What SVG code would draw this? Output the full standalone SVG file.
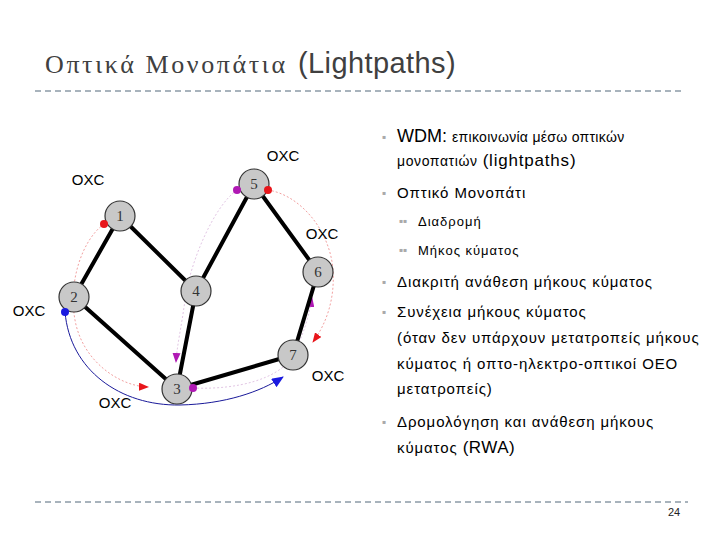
<svg xmlns="http://www.w3.org/2000/svg" width="720" height="540" viewBox="0 0 720 540">
<style>
.sep{stroke:#a8b3bc;stroke-width:2;stroke-dasharray:6 4;fill:none}
.edge{stroke:#000;stroke-width:4;stroke-linecap:round}
.node circle{fill:#c8c8c8;stroke:#333;stroke-width:1.2}
.node text{font-family:"Liberation Serif","DejaVu Serif",serif;font-size:15px;fill:#333;text-anchor:middle}
.oxc{font-family:"Liberation Sans",Arial,sans-serif;font-size:15px;fill:#000;text-anchor:middle}
.red{stroke:#e88;stroke-width:0.8;stroke-dasharray:2 2;fill:none}
.pur{stroke:#d9b6dc;stroke-width:0.8;stroke-dasharray:2 2;fill:none}
.blue{stroke:#1a1a9a;stroke-width:1;fill:none}
.b{font-family:"Liberation Sans",Arial,sans-serif;font-size:15px;fill:#000;letter-spacing:0.9px}
.s{font-family:"Liberation Sans",Arial,sans-serif;font-size:13px;fill:#000;letter-spacing:1px}
.bul{font-family:"DejaVu Sans",sans-serif;font-size:6px;fill:#aaa}
</style>
<defs>
<marker id="ar" markerWidth="10" markerHeight="8" refX="9" refY="4" orient="auto" markerUnits="userSpaceOnUse"><path d="M0,0 L10,4 L0,8 Z" fill="#e8161b"/></marker>
<marker id="ap" markerWidth="10" markerHeight="8" refX="9" refY="4" orient="auto" markerUnits="userSpaceOnUse"><path d="M0,0 L10,4 L0,8 Z" fill="#b019b4"/></marker>
<marker id="ab" markerWidth="12" markerHeight="10" refX="11" refY="5" orient="auto" markerUnits="userSpaceOnUse"><path d="M0,0 L12,5 L0,10 Z" fill="#1a1ae0"/></marker>
</defs>

<text x="45" y="73" font-family="'Liberation Serif','DejaVu Serif',serif" font-size="26" fill="#404040" letter-spacing="2.6">Οπτικά Μονοπάτια</text>
<text x="298" y="73" font-family="'Liberation Sans',Arial,sans-serif" font-size="29" fill="#404040" letter-spacing="0.4">(Lightpaths)</text>
<line class="sep" x1="35" y1="91" x2="685" y2="91"/>
<line class="sep" x1="35" y1="502" x2="688" y2="502"/>
<text x="668" y="516" font-family="'Liberation Sans Narrow','Liberation Sans',sans-serif" font-size="11" fill="#222">24</text>

<g id="connectors">
<path class="red" d="M104,224 C82,240 68,282 75,320 C82,360 118,386 148,387" marker-end="url(#ar)"/>
<path class="red" d="M268,190 C300,195 330,230 333,270 C335,300 326,324 313,342" marker-end="url(#ar)"/>
<path class="pur" d="M237,190 C214,206 190,262 185,300 C181,330 177,345 176,362" marker-end="url(#ap)"/>
<path class="pur" d="M193,388 C240,390 276,378 290,360 C302,340 308,320 312,298" marker-end="url(#ap)"/>
<path class="blue" d="M65,312 C70,370 120,406 180,405 C225,404 260,392 283,377" marker-end="url(#ab)"/>
<line class="edge" x1="120" y1="216" x2="74" y2="297"/>
<line class="edge" x1="120" y1="216" x2="196" y2="291"/>
<line class="edge" x1="74" y1="297" x2="177" y2="389"/>
<line class="edge" x1="196" y1="291" x2="177" y2="389"/>
<line class="edge" x1="196" y1="291" x2="254" y2="184"/>
<line class="edge" x1="254" y1="184" x2="318" y2="272"/>
<line class="edge" x1="318" y1="272" x2="293" y2="355"/>
<line class="edge" x1="177" y1="389" x2="293" y2="355"/>
</g>

<g id="n1" class="node"><circle cx="120" cy="216" r="15"/><text x="120" y="221">1</text></g>
<g id="n2" class="node"><circle cx="74" cy="297" r="15"/><text x="74" y="302">2</text></g>
<g id="n3" class="node"><circle cx="177" cy="389" r="15"/><text x="177" y="394">3</text></g>
<g id="n4" class="node"><circle cx="196" cy="291" r="15"/><text x="196" y="296">4</text></g>
<g id="n5" class="node"><circle cx="254" cy="184" r="15"/><text x="254" y="189">5</text></g>
<g id="n6" class="node"><circle cx="318" cy="272" r="15"/><text x="318" y="277">6</text></g>
<g id="n7" class="node"><circle cx="293" cy="355" r="15"/><text x="293" y="360">7</text></g>

<g id="dots">
<circle cx="104" cy="224" r="4" fill="#e8161b"/>
<circle cx="268" cy="190" r="4" fill="#e8161b"/>
<circle cx="237" cy="190" r="4" fill="#b019b4"/>
<circle cx="193" cy="388" r="4" fill="#b019b4"/>
<circle cx="65" cy="312" r="4" fill="#1a1ae0"/>
</g>

<g id="labels">
<text class="oxc" x="88" y="185">OXC</text>
<text class="oxc" x="283" y="161">OXC</text>
<text class="oxc" x="322" y="239">OXC</text>
<text class="oxc" x="29" y="316">OXC</text>
<text class="oxc" x="328" y="381">OXC</text>
<text class="oxc" x="115" y="408">OXC</text>
</g>

<g id="bullets">
<text class="bul" x="382" y="139">▪</text>
<text class="b" x="397" y="142"><tspan font-size="18" letter-spacing="0">WDM:</tspan> <tspan font-size="14" letter-spacing="0.3">επικοινωνία μέσω οπτικών</tspan></text>
<text class="b" x="397" y="166"><tspan font-size="14" letter-spacing="0.6">μονοπατιών</tspan> <tspan font-size="17" letter-spacing="0.8">(lightpaths)</tspan></text>
<text class="bul" x="382" y="195">▪</text>
<text class="b" x="397" y="198">Οπτικό Μονοπάτι</text>
<text class="bul" x="399" y="223">▪▪</text>
<text class="s" x="418" y="226">Διαδρομή</text>
<text class="bul" x="399" y="252">▪▪</text>
<text class="s" x="418" y="255">Μήκος κύματος</text>
<text class="bul" x="382" y="284">▪</text>
<text class="b" x="397" y="287">Διακριτή ανάθεση μήκους κύματος</text>
<text class="bul" x="382" y="314">▪</text>
<text class="b" x="397" y="317">Συνέχεια μήκους κύματος</text>
<text class="b" x="397" y="343">(όταν δεν υπάρχουν μετατροπείς μήκους</text>
<text class="b" x="397" y="369">κύματος ή οπτο-ηλεκτρο-οπτικοί ΟΕΟ</text>
<text class="b" x="397" y="394">μετατροπείς)</text>
<text class="bul" x="382" y="424">▪</text>
<text class="b" x="397" y="427">Δρομολόγηση και ανάθεση μήκους</text>
<text class="b" x="397" y="453">κύματος <tspan font-size="17" letter-spacing="0.5">(RWA)</tspan></text>
</g>
</svg>
